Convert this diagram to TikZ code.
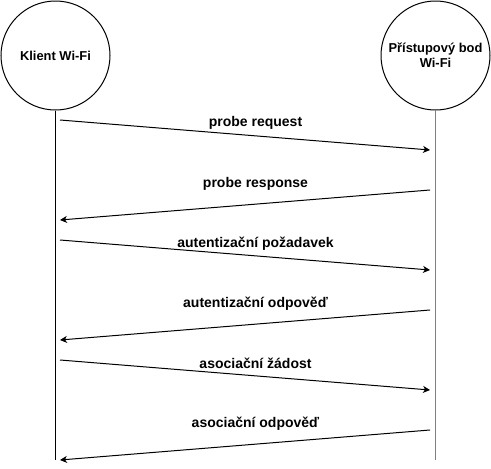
\documentclass[tikz,border=0pt]{standalone}
\usepackage{fontspec}
\setmainfont{Liberation Sans}
\usetikzlibrary{arrows.meta, positioning}

\tikzset{
	actor/.style={circle, draw, line width=1pt, minimum size=109pt, inner sep=0pt, align=center, font=\bfseries\fontsize{12.9}{15}\selectfont},
	msg/.style={-{Stealth[length=7pt, width=7pt, inset=2pt]}, line width=1pt},
	lbl/.style={font=\bfseries\fontsize{14}{16}\selectfont}
}

\begin{document}
\begin{tikzpicture}[x=1pt, y=-1pt]
	\useasboundingbox (0,0) rectangle (491,469);

	\node[actor] (klient) at (55.5,55.5) {Klient Wi-Fi};
	\node[actor] (bod) at (435.5,55.5) {Přístupový bod\\Wi-Fi};
	\coordinate (klientEnd) at (55.5,460);
	\coordinate (bodEnd) at (435.5,460);

	\draw[line width=1pt] (klient.south) -- (klientEnd);
	\draw[line width=1pt, gray] (bod.south) -- (bodEnd);

	% zpravy
	\coordinate (k1) at (60,120); \coordinate (b1) at (430,150);
	\coordinate (b2) at (430,190); \coordinate (k2) at (60,220);
	\coordinate (k3) at (60,240); \coordinate (b3) at (430,270);
	\coordinate (b4) at (430,310); \coordinate (k4) at (60,340);
	\coordinate (k5) at (60,360); \coordinate (b5) at (430,390);
	\coordinate (b6) at (430,430); \coordinate (k6) at (60,460);

	\node[lbl] (m1) at (255.5,122.5) {probe request};
	\node[lbl] (m2) at (255.5,183.5) {probe response};
	\node[lbl] (m3) at (255.5,243.5) {autentizační požadavek};
	\node[lbl] (m4) at (255.5,303.5) {autentizační odpověď};
	\node[lbl] (m5) at (255.5,363.5) {asociační žádost};
	\node[lbl] (m6) at (255.5,423.5) {asociační odpověď};

	\draw[msg] (k1) -- (b1);
	\draw[msg] (b2) -- (k2);
	\draw[msg] (k3) -- (b3);
	\draw[msg] (b4) -- (k4);
	\draw[msg] (k5) -- (b5);
	\draw[msg] (b6) -- (k6);
\end{tikzpicture}
\end{document}
